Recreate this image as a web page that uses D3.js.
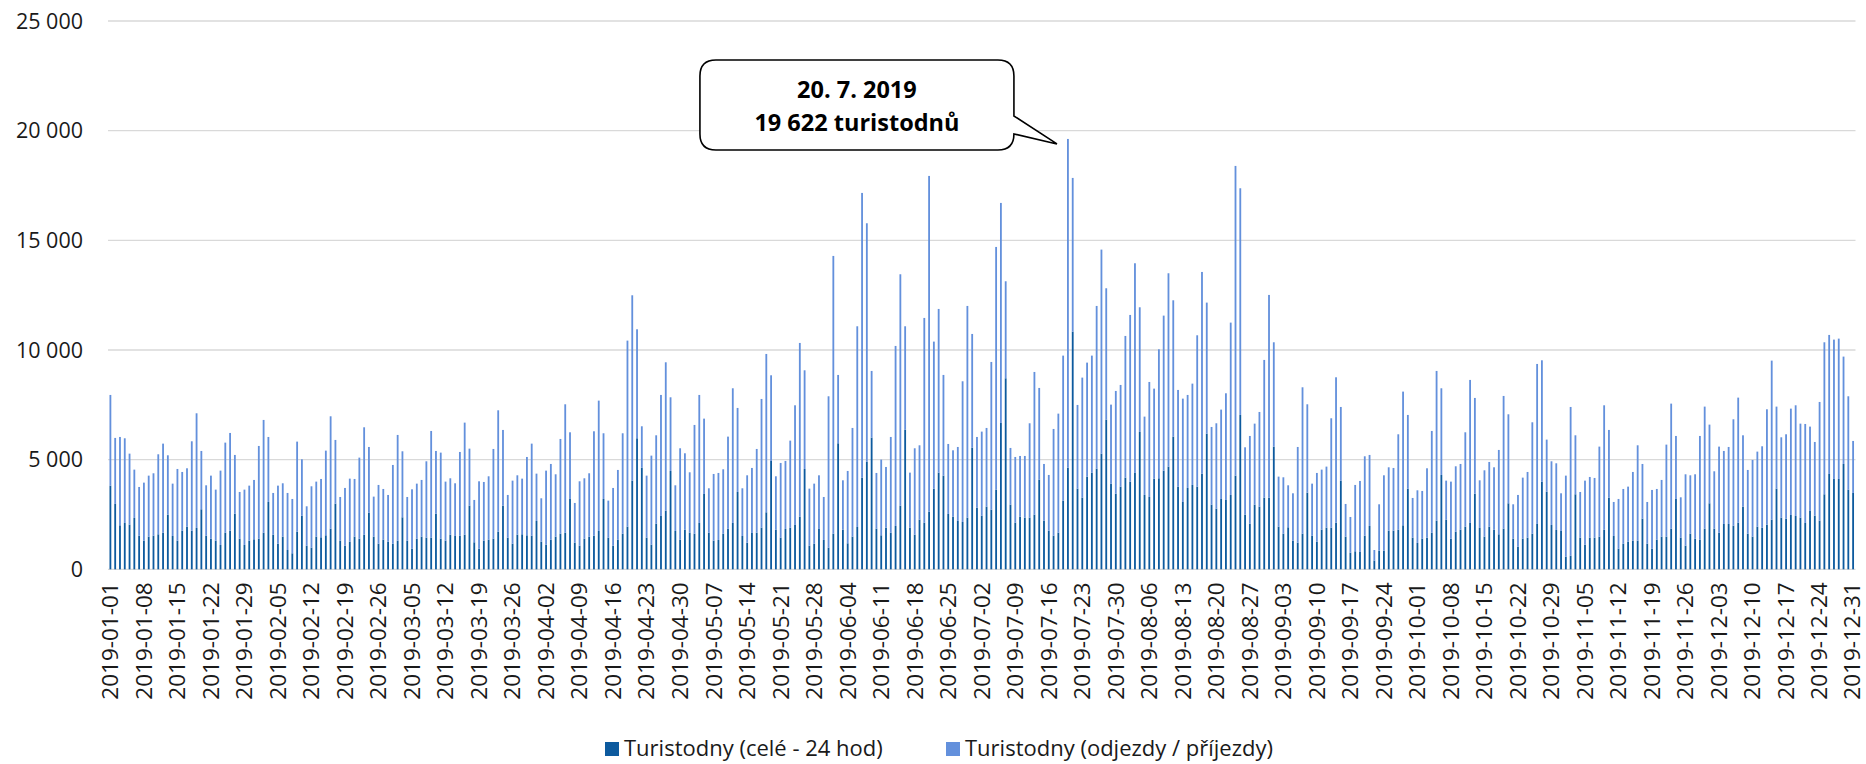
<!DOCTYPE html>
<html>
<head>
<meta charset="utf-8">
<script src="https://cdn.jsdelivr.net/npm/d3@7"></script>
<style>
  body { margin: 0; background: #fff; }
  svg { display: block; font-family: "Open Sans", sans-serif; }
</style>
</head>
<body>
<svg id="chart" width="1866" height="764"></svg>
<script>
const startDate = '2019-01-01';
const dayCount = 365;

// turistodny celé - 24 hod (tmavá část)
const cele = [
  3815,2980,2006,2113,2037,2341,1535,1307,1490,1535,1596,1672,2493,1520,1307,1763,1946,1763,1885,2736,1535,1398,1307,1110,1672,1763,2538,1398,1110,1307,
  1368,1398,1672,3070,1581,1170,1490,880,730,1718,2447,1079,988,1490,1459,1550,1854,2994,1307,1079,1262,1490,1398,1581,2584,1490,1170,1353,1262,1170,
  1307,2371,1307,942,1398,1490,1444,1444,2538,1398,1307,1581,1520,1535,1581,2903,1231,942,1307,1353,1398,1718,2903,1444,1170,1581,1596,1550,1535,2204,
  1262,1125,1353,1490,1626,1672,3207,1216,1079,1398,1490,1535,1748,3207,1444,1079,1353,1626,1946,4043,5974,4636,1444,1125,2082,2432,2675,4484,1748,1353,
  1809,1672,1626,2113,3435,1672,1307,1338,1626,1854,2113,3526,1520,1216,1657,1672,1900,2599,4940,1809,1444,1839,1900,2022,2402,4575,1079,1170,1839,1338,988,
  1626,5746,1809,1186,1490,1930,4180,4910,6004,1854,1550,1900,1672,1976,2903,6369,1900,1581,2265,2128,2630,3678,4408,4271,2523,2402,2204,2158,2356,5548,
  2812,2447,2858,2721,3633,6673,8710,2949,2128,2402,2356,2356,2493,4089,2219,1763,1535,1672,3131,4636,10838,3678,3268,4226,4408,4590,5274,6825,3906,3450,3770,
  4180,3998,4393,6262,3390,3298,4134,4150,4499,4682,6050,3770,3070,3709,3846,3770,4362,6186,2949,2766,3207,3162,3390,4271,7038,2493,2082,2949,2858,3268,
  3268,5594,1946,1626,1915,1307,1216,1626,3496,1535,1262,1809,1900,1900,2128,4043,1490,760,821,790,1535,1976,400,850,851,1763,1763,1809,2006,3678,
  1444,1201,1398,1444,1672,2219,4302,2265,1398,1718,1809,1946,2113,3450,1885,1490,1946,1809,1596,1854,3010,1398,1034,1398,1444,1626,2067,3998,3542,2022,
  1794,1748,578,623,3420,1444,1125,1444,1444,1490,1809,3268,1520,942,1170,1262,1307,1307,2310,1170,942,1353,1490,1490,1854,3207,1444,1079,1626,1398,1353,
  1854,3010,1854,1672,2067,2067,1991,2128,2858,1626,1490,1946,1900,2037,2265,3678,2356,2310,2478,2432,2356,2113,2660,2447,2219,3420,4347,4119,4119,4803,3633,3481
];

// turistodny odjezdy / příjezdy (světlá část)
const odjezdy = [
  4135,3010,4028,3861,3237,2204,2219,2645,2781,2843,3648,4058,2705,2386,3268,2675,2660,4074,5229,2660,2295,2873,2326,3389,4104,4454,2676,2128,2523,2508,
  2706,4226,5138,2964,1900,2645,2432,2601,2477,4104,2569,1794,2797,2508,2660,3861,5123,2904,1991,2630,2872,2629,3694,4894,2994,1824,2676,2310,2128,3588,
  4819,3010,1991,2706,2508,2584,3481,4864,2858,3922,2691,2569,2402,3815,5107,2599,1931,3071,2675,2888,4089,5532,3451,1946,2873,2705,2538,3572,4195,2158,
  1976,3374,3450,2842,4317,5852,3040,1809,2934,2752,2888,4758,5943,2995,1687,2630,3177,4576,8481,8451,4970,1885,2827,4058,4028,5518,6764,3359,2082,4165,
  3481,2751,4956,5837,3435,2022,3040,3055,2934,4196,6141,3831,2174,3070,2964,3815,5867,7220,3906,2432,3405,3101,3967,5456,7919,4499,2599,2736,2447,1960,6901,
  12662,3116,2249,3298,4955,9151,12981,10868,3040,2539,3451,2766,4362,8208,10549,4712,2508,3937,3389,9333,15306,6704,7463,4591,3192,3024,3374,6415,9652,5183,
  3222,3831,3587,6733,11065,10032,4423,2584,2994,2766,2812,4302,6505,4180,2584,2539,4864,5426,6612,14986,7007,3816,5472,5198,5335,7418,9303,5989,3603,4682,4636,
  6460,7600,9561,5685,3572,5244,4104,5882,7068,8816,6216,4408,4712,4241,4620,6900,9196,5974,3541,3892,4074,4864,7858,14121,10336,3070,3998,3693,4316,6278,
  9242,4757,2280,2569,1915,2159,4362,6673,4028,2371,3131,2736,2782,4986,6627,3359,1489,1626,3025,3238,3618,3238,480,2114,3435,2888,2858,4347,6096,3360,
  1809,2401,2174,3162,4636,6825,3952,1778,2600,2979,2994,4301,6521,4363,2173,3024,2948,2842,3846,6050,4058,1566,2356,2782,2994,5077,7296,5532,2371,2903,
  3040,1718,3693,6779,2690,2082,2918,2766,2721,4104,5669,3086,1550,2265,2493,2508,3131,4347,2493,1900,2676,2310,2584,4195,5700,2873,1839,3253,2660,2934,4727,
  5564,3587,2615,3922,3329,3511,4849,5700,3252,2904,3496,3420,3709,5259,7250,3740,3663,3846,4848,5046,4286,4514,3846,3359,5411,6931,6339,6354,6399,4895,4256,2371
];

const yTicks = [0, 5000, 10000, 15000, 20000, 25000];
const seriesNames = ['Turistodny (celé - 24 hod)', 'Turistodny (odjezdy / příjezdy)'];
const colors = ['#0d5a9e', '#6390dc'];

const fmtDate = d3.utcFormat('%Y-%m-%d');
const day0 = new Date(startDate + 'T00:00:00Z');
const days = d3.utcDay.range(day0, d3.utcDay.offset(day0, dayCount)).map(fmtDate);
const tickDays = days.filter((d, i) => i % 7 === 0 || i === days.length - 1);

const rows = days.map((d, i) => ({ day: d, cele: cele[i], odjezdy: odjezdy[i] }));

const svg = d3.select('#chart');
const plotLeft = 108, plotRight = 1855.5, plotBottom = 569.3, plotTop = 21;

const x = d3.scaleBand()
  .domain(days)
  .range([plotLeft, plotRight])
  .paddingInner(0.62)
  .paddingOuter(0.31);

const y = d3.scaleLinear()
  .domain([0, 25000])
  .range([plotBottom, plotTop]);

// gridlines
svg.append('g')
  .selectAll('line')
  .data(yTicks)
  .join('line')
  .attr('x1', plotLeft)
  .attr('x2', plotRight)
  .attr('y1', d => y(d))
  .attr('y2', d => y(d))
  .attr('stroke', '#d9d9d9')
  .attr('stroke-width', 1.3);

// y labels
const fmtNum = v => d3.format(',')(v).replace(/,/g, '\u00a0');
svg.append('g')
  .selectAll('text')
  .data(yTicks)
  .join('text')
  .attr('x', 83)
  .attr('y', d => y(d))
  .attr('dy', '0.35em')
  .attr('text-anchor', 'end')
  .attr('fill', '#1a1a1a')
  .attr('font-size', 21.5)
  .text(fmtNum);

// stacked bars
const stack = d3.stack().keys(['cele', 'odjezdy'])(rows);
svg.append('g')
  .selectAll('g')
  .data(stack)
  .join('g')
  .attr('fill', (d, i) => colors[i])
  .selectAll('rect')
  .data(d => d)
  .join('rect')
  .attr('x', d => x(d.data.day))
  .attr('width', x.bandwidth())
  .attr('y', d => y(d[1]))
  .attr('height', d => y(d[0]) - y(d[1]));

// x labels
svg.append('g')
  .selectAll('text')
  .data(tickDays)
  .join('text')
  .attr('transform', d => `translate(${Math.min(x(d) + x.bandwidth() / 2, 1852)},${plotBottom + 13}) rotate(-90)`)
  .attr('text-anchor', 'end')
  .attr('dy', '0.35em')
  .attr('fill', '#1a1a1a')
  .attr('font-size', 22.5)
  .text(d => d);

// callout on the max day
const totals = rows.map(r => r.cele + r.odjezdy);
const maxI = d3.maxIndex(totals);
const maxDate = new Date(days[maxI] + 'T00:00:00Z');
const tipX = x(days[maxI]) + x.bandwidth() / 2 - 11;
const tipY = y(totals[maxI]) + 5;
const bx0 = tipX - 357, bx1 = tipX - 43, by0 = tipY - 84, by1 = tipY + 6, r = 16;
const callout = svg.append('g');
callout.append('path')
  .attr('d', `M${bx0 + r},${by0} H${bx1 - r} Q${bx1},${by0} ${bx1},${by0 + r} V${by1 - 34} L${tipX},${tipY} L${bx1},${by1 - r} Q${bx1},${by1} ${bx1 - r},${by1} H${bx0 + r} Q${bx0},${by1} ${bx0},${by1 - r} V${by0 + r} Q${bx0},${by0} ${bx0 + r},${by0} Z`)
  .attr('fill', '#fff')
  .attr('stroke', '#000')
  .attr('stroke-width', 1.6);
const cx = (bx0 + bx1) / 2;
callout.append('text')
  .attr('x', cx)
  .attr('y', by0 + 30)
  .attr('dy', '0.35em')
  .attr('text-anchor', 'middle')
  .attr('font-weight', 'bold')
  .attr('font-size', 23.5)
  .attr('fill', '#000')
  .text(`${maxDate.getUTCDate()}. ${maxDate.getUTCMonth() + 1}. ${maxDate.getUTCFullYear()}`);
callout.append('text')
  .attr('x', cx)
  .attr('y', by0 + 63)
  .attr('dy', '0.35em')
  .attr('text-anchor', 'middle')
  .attr('font-weight', 'bold')
  .attr('font-size', 23.5)
  .attr('fill', '#000')
  .text(`${fmtNum(totals[maxI])} turistodnů`);

// legend
const legendX = [605, 946];
const legend = svg.append('g')
  .selectAll('g')
  .data(seriesNames)
  .join('g')
  .attr('transform', (d, i) => `translate(${legendX[i]},748)`);
legend.append('rect')
  .attr('x', 0)
  .attr('y', -6)
  .attr('width', 14)
  .attr('height', 14)
  .attr('fill', (d, i) => colors[i]);
legend.append('text')
  .attr('x', 19)
  .attr('dy', '0.35em')
  .attr('font-size', 22)
  .attr('fill', '#1a1a1a')
  .text(d => d);
</script>
</body>
</html>
